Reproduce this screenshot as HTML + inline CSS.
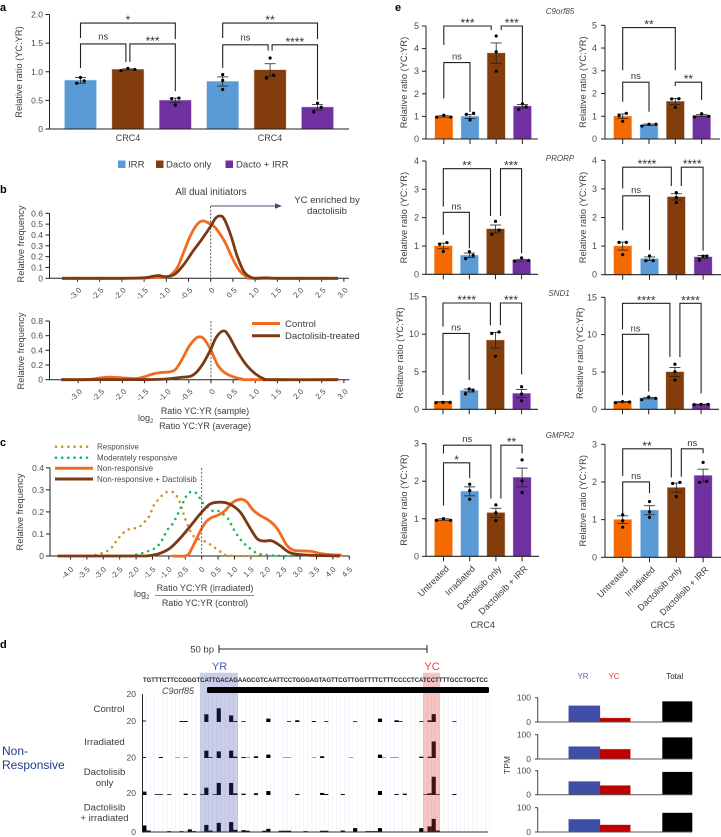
<!DOCTYPE html>
<html lang="en">
<head>
<meta charset="utf-8">
<title>YC:YR ratio figure</title>
<style>
html,body{margin:0;padding:0;background:#fff;}
svg{display:block;}
text{font-family:"Liberation Sans",sans-serif;fill:#3c3c3c;font-size:9px;}
.pl{font-size:11px;font-weight:bold;fill:#000;}
.tk{font-size:8.5px;fill:#4a4a4a;}
.lg{font-size:8px;fill:#4a4a4a;}
.gene{font-size:8px;font-style:italic;fill:#444;}
.md{font-size:9.6px;}
</style>
</head>
<body>
<svg id="fig" xmlns="http://www.w3.org/2000/svg" width="721" height="837" viewBox="0 0 721 837">
  <rect x="0" y="0" width="721" height="837" fill="#fff"/>
  <text class="pl" x="0" y="11">a</text>
  <text class="pl" x="0" y="193">b</text>
  <text class="pl" x="0" y="446">c</text>
  <text class="pl" x="0" y="648">d</text>
  <text class="pl" x="395" y="11">e</text>

  <g id="panelA"></g>
  <text x="0" y="0" text-anchor="middle" transform="translate(22 72) rotate(-90)" style="font-size:9.3px">Relative ratio (YC:YR)</text>
  <text x="128" y="141" text-anchor="middle">CRC4</text>
  <text x="270" y="141" text-anchor="middle">CRC4</text>
  <g>
    <rect x="118" y="160.5" width="7.5" height="7.5" fill="#5b9bd5"/>
    <text class="md" x="128" y="167.5">IRR</text>
    <rect x="156" y="160.5" width="7.5" height="7.5" fill="#833c0b"/>
    <text class="md" x="166" y="167.5">Dacto only</text>
    <rect x="225.5" y="160.5" width="7.5" height="7.5" fill="#7030a0"/>
    <text class="md" x="236" y="167.5">Dacto + IRR</text>
  </g>

  <g id="panelB"></g>
  <text x="211" y="195" text-anchor="middle" style="font-size:9.8px">All dual initiators</text>
  <text class="md" x="327" y="203" text-anchor="middle">YC enriched by</text>
  <text class="md" x="327" y="214" text-anchor="middle">dactolisib</text>
  <line x1="211" y1="206" x2="277" y2="206" stroke="#3d5070" stroke-width="1"/>
  <polygon points="282,206 275,203.2 275,208.8" fill="#3d5070"/>
  <text x="0" y="0" text-anchor="middle" transform="translate(24 244) rotate(-90)" style="font-size:9.3px">Relative frequency</text>
  <text x="0" y="0" text-anchor="middle" transform="translate(24 351) rotate(-90)" style="font-size:9.3px">Relative frequency</text>
  <line x1="252" y1="323.5" x2="280" y2="323.5" stroke="#f26b21" stroke-width="3"/>
  <text class="md" x="285" y="326.8">Control</text>
  <line x1="252" y1="335.7" x2="280" y2="335.7" stroke="#7b3a14" stroke-width="3"/>
  <text class="md" x="285" y="339">Dactolisib-treated</text>
  <g>
    <text x="138" y="421">log<tspan dy="2" style="font-size:6px">2</tspan></text>
    <line x1="160" y1="418.3" x2="250" y2="418.3" stroke="#444" stroke-width=".7"/>
    <text x="205" y="414" text-anchor="middle">Ratio YC:YR (sample)</text>
    <text x="205" y="429" text-anchor="middle">Ratio YC:YR (average)</text>
  </g>

  <g id="panelC"></g>
  <text x="0" y="0" text-anchor="middle" transform="translate(23 512) rotate(-90)" style="font-size:9.3px">Relative frequency</text>
  <g>
    <line x1="56" y1="446.7" x2="92" y2="446.7" stroke="#c8952f" stroke-width="2.6" stroke-linecap="round" stroke-dasharray="0 6.2"/>
    <text class="lg" x="97" y="449.5">Responsive</text>
    <line x1="56" y1="457.7" x2="92" y2="457.7" stroke="#1fb45f" stroke-width="2.6" stroke-linecap="round" stroke-dasharray="0 6.2"/>
    <text class="lg" x="97" y="460.5">Moderately responsive</text>
    <line x1="55" y1="468.3" x2="93" y2="468.3" stroke="#f26b21" stroke-width="3"/>
    <text class="lg" x="97" y="471">Non-responsive</text>
    <line x1="55" y1="479" x2="93" y2="479" stroke="#7b3a14" stroke-width="3"/>
    <text class="lg" x="97" y="481.8">Non-responsive + Dactolisib</text>
  </g>
  <g>
    <text x="134" y="597">log<tspan dy="2" style="font-size:6px">2</tspan></text>
    <line x1="155" y1="595.3" x2="254" y2="595.3" stroke="#444" stroke-width=".7"/>
    <text x="205" y="591" text-anchor="middle">Ratio YC:YR (irradiated)</text>
    <text x="205" y="606" text-anchor="middle">Ratio YC:YR (control)</text>
  </g>

  <g id="panelD"></g>
  <g>
    <text x="214" y="652.5" text-anchor="end" style="font-size:9.5px">50 bp</text>
    <line x1="219" y1="649" x2="427" y2="649" stroke="#222" stroke-width="1"/>
    <line x1="219" y1="645" x2="219" y2="653" stroke="#222" stroke-width="1"/>
    <line x1="427" y1="645" x2="427" y2="653" stroke="#222" stroke-width="1"/>
    <text x="219.5" y="670" text-anchor="middle" style="font-size:11px;fill:#4a5ab8">YR</text>
    <text x="432" y="670" text-anchor="middle" style="font-size:11px;fill:#e84040">YC</text>
    <text x="143" y="682" textLength="345" lengthAdjust="spacingAndGlyphs" style="font-size:6.2px;fill:#222;font-weight:bold">TGTTTCTTCCGGGTCATTGACAGAAGCGTCAATTCCTGGGAGTAGTTCGTTGGTTTTCTTTCCCCTCATCCTTTTGCCTGCTCC</text>
    <rect x="207" y="687" width="282" height="6" rx="1.5" fill="#000"/>
    <text class="gene" x="178" y="694" text-anchor="middle" style="font-size:9px">C9orf85</text>
    <text class="md" x="109" y="712" text-anchor="middle">Control</text>
    <text class="md" x="104.5" y="745" text-anchor="middle">Irradiated</text>
    <text class="md" x="104.5" y="775" text-anchor="middle">Dactolisib</text>
    <text class="md" x="104.5" y="786" text-anchor="middle">only</text>
    <text class="md" x="104.5" y="810.5" text-anchor="middle">Dactolisib</text>
    <text class="md" x="104.5" y="821" text-anchor="middle">+ irradiated</text>
    <text x="2" y="755" style="font-size:12px;fill:#1f3a8a">Non-</text>
    <text x="2" y="769" style="font-size:12px;fill:#1f3a8a">Responsive</text>
  </g>

  <g id="panelTpm"></g>
  <text x="583" y="679" text-anchor="middle" style="font-size:8px;fill:#5a62c0">YR</text>
  <text x="614" y="679" text-anchor="middle" style="font-size:8px;fill:#e04030">YC</text>
  <text x="674.7" y="679" text-anchor="middle" style="font-size:8px;fill:#222">Total</text>
  <text x="0" y="0" text-anchor="middle" transform="translate(510 765) rotate(-90)" style="font-size:8.5px">TPM</text>

  <g id="panelE"></g>
  <text class="gene" x="560" y="14" text-anchor="middle">C9orf85</text>
  <text class="gene" x="560" y="161" text-anchor="middle">PRORP</text>
  <text class="gene" x="559" y="296" text-anchor="middle">SND1</text>
  <text class="gene" x="560" y="438" text-anchor="middle">GMPR2</text>
  <text x="482.7" y="628" text-anchor="middle">CRC4</text>
  <text x="662.7" y="628" text-anchor="middle">CRC5</text>
</svg>

<script>
/* ---------- shared colours ---------- */
var barColors3 = ['#5b9bd5', '#833c0b', '#7030a0'];
var barColors4 = ['#f56a00', '#5b9bd5', '#833c0b', '#7030a0'];

/* ---------- panel a data ---------- */
var aValues = [0.85, 1.04, 0.50, 0.83, 1.03, 0.38];
var aErrors = [0.05, 0.01, 0.04, 0.08, 0.11, 0.05];
var aPoints = [[0.80,0.90,0.84],[1.02,1.06,1.04],[0.54,0.42,0.53],[0.95,0.85,0.69],[0.89,1.24,0.94],[0.45,0.38,0.30]];
var aTicks = [0, 0.5, 1.0, 1.5, 2.0];
var aTickLabels = ['0', '0.5', '1.0', '1.5', '2.0'];
var aBrackets = [[0,2,1.85,1.59,1.57,'*'],[0,1,1.485,1.065,1.17,'ns'],[1,2,1.485,1.17,0.66,'***'],
                 [3,5,1.85,1.59,1.57,'**'],[3,4,1.47,1.065,1.37,'ns'],[4,5,1.47,1.37,0.51,'****']];

/* ---------- panel b data ---------- */
var bTopTicks = [-3,-2.5,-2,-1.5,-1,-0.5,0,0.5,1,1.5,2,2.5,3];
var bTopTickLabels = ['-3.0','-2.5','-2.0','-1.5','-1.0','-0.5','0','0.5','1.0','1.5','2.0','2.5','3.0'];
var bTopYTicks = [0,0.1,0.2,0.3,0.4,0.5,0.6];
var bTopYLabels = ['0','0.1','0.2','0.3','0.4','0.5','0.6'];
var bTopControl = [[-3.35,0],[-2,0],[-1.5,0.002],[-1.2,0.01],[-1,0.012],[-0.9,0.03],[-0.75,0.1],[-0.6,0.25],[-0.45,0.4],[-0.3,0.5],[-0.18,0.53],[-0.05,0.51],[0.1,0.47],[0.3,0.35],[0.45,0.22],[0.6,0.1],[0.75,0.03],[0.9,0.005],[1,0],[2.87,0]];
var bTopDacto = [[-3.35,0],[-2,0],[-1.5,0.005],[-1.2,0.025],[-1,0.015],[-0.8,0.04],[-0.6,0.13],[-0.4,0.25],[-0.2,0.36],[0,0.48],[0.1,0.55],[0.2,0.575],[0.3,0.55],[0.45,0.4],[0.6,0.2],[0.75,0.06],[0.9,0.01],[1,0],[1.25,0.005],[1.5,0],[2.87,0]];
var bBotYTicks = [0,0.2,0.4,0.6,0.8];
var bBotYLabels = ['0','0.2','0.4','0.6','0.8'];
var bBotControl = [[-3.38,0],[-2.8,0.002],[-2.5,0.025],[-2.3,0.035],[-2,0.025],[-1.7,0.015],[-1.5,0.04],[-1.3,0.08],[-1.1,0.1],[-0.95,0.105],[-0.8,0.14],[-0.65,0.28],[-0.5,0.45],[-0.35,0.56],[-0.25,0.585],[-0.15,0.55],[0,0.4],[0.15,0.2],[0.3,0.1],[0.5,0.04],[0.7,0.01],[0.9,0],[2.87,0]];
var bBotDacto = [[-3.38,0],[-1.5,0.002],[-1,0.01],[-0.7,0.03],[-0.45,0.05],[-0.3,0.12],[-0.15,0.25],[0,0.42],[0.12,0.58],[0.28,0.665],[0.4,0.6],[0.6,0.38],[0.8,0.2],[1,0.08],[1.2,0.01],[1.35,0],[2.87,0]];

/* ---------- panel c data ---------- */
var cTicks = [-4,-3.5,-3,-2.5,-2,-1.5,-1,-0.5,0,0.5,1,1.5,2,2.5,3,3.5,4,4.5];
var cTickLabels = ['-4.0','-3.5','-3.0','-2.5','-2.0','-1.5','-1.0','-0.5','0','0.5','1.0','1.5','2.0','2.5','3.0','3.5','4.0','4.5'];
var cYTicks = [0,0.1,0.2,0.3,0.4];
var cYLabels = ['0','0.1','0.2','0.3','0.4'];
var cResponsive = [[-4.37,0],[-3.6,0],[-3.3,0.003],[-3,0.015],[-2.8,0.03],[-2.67,0.053],[-2.56,0.077],[-2.43,0.098],[-2.28,0.118],[-2.08,0.124],[-1.9,0.133],[-1.75,0.154],[-1.6,0.18],[-1.46,0.23],[-1.34,0.253],[-1.2,0.276],[-1.05,0.291],[-0.85,0.288],[-0.73,0.264],[-0.65,0.238],[-0.59,0.208],[-0.53,0.181],[-0.46,0.152],[-0.3,0.1],[-0.15,0.08],[0.02,0.072],[0.21,0.057],[0.36,0.042],[0.54,0.023],[0.71,0.005],[1.07,0],[1.9,0]];
var cModerate = [[-2.18,0],[-1.98,0.007],[-1.78,0.015],[-1.6,0.024],[-1.42,0.036],[-1.29,0.054],[-1.17,0.083],[-1.05,0.118],[-0.95,0.133],[-0.84,0.158],[-0.75,0.184],[-0.66,0.211],[-0.58,0.238],[-0.5,0.264],[-0.38,0.288],[-0.21,0.29],[-0.07,0.266],[0.03,0.241],[0.33,0.205],[0.52,0.204],[0.81,0.168],[0.91,0.14],[1,0.115],[1.11,0.09],[1.24,0.065],[1.37,0.047],[1.51,0.03],[1.7,0.012],[1.88,0.006],[2.29,0.001],[2.9,0]];
var cNonResponsive = [[-0.9,0],[-0.46,0.002],[-0.3,0.035],[-0.15,0.08],[0,0.125],[0.15,0.158],[0.3,0.174],[0.51,0.186],[0.71,0.205],[0.86,0.231],[1.02,0.25],[1.22,0.257],[1.37,0.246],[1.57,0.208],[1.78,0.184],[2.03,0.163],[2.24,0.136],[2.39,0.103],[2.59,0.05],[2.79,0.027],[3.1,0.023],[3.35,0.021],[3.6,0.012],[3.91,0.006],[4.27,0.004]];
var cNonDacto = [[-4.4,0],[-2,0],[-1.58,0.002],[-1.27,0.012],[-0.97,0.035],[-0.66,0.08],[-0.36,0.133],[-0.05,0.19],[0.25,0.235],[0.56,0.244],[0.86,0.235],[1.17,0.2],[1.42,0.14],[1.68,0.08],[1.88,0.068],[2.13,0.069],[2.39,0.047],[2.69,0.015],[3.1,0.005],[3.6,0.002],[4.22,0]];

/* ---------- panel d data: [base bin, coverage] ---------- */
var dTrackControl = [[9,.5],[10,.5],[15,4.1],[18,7.3],[21,3.5],[22,.5],[24,.4],[30,1.8],[35,.4],[37,.9],[41,.5],[44,.4],[51,.4],[57,1.8],[61,.9],[62,.4],[67,.4],[69,.9],[70,4.2],[75,.4]];
var dTrackIrradiated = [[4,.5],[8,.2],[10,.2],[15,3.9],[16,.4],[18,3.5],[21,3.9],[22,.7],[24,.5],[25,.2],[27,.9],[30,1.8],[34,.2],[35,.2],[41,.2],[43,.9],[50,.2],[57,1.8],[58,.2],[60,.2],[61,.2],[67,.7],[69,.7],[70,8.8]];
var dTrackDacto = [[0,1.8],[3,.4],[4,.4],[6,.4],[10,.7],[12,.4],[14,.4],[15,3.9],[17,.4],[18,6.4],[21,6.4],[22,.9],[24,.7],[27,.9],[30,2.1],[37,.5],[43,1.1],[44,.5],[48,.5],[57,2.1],[61,.5],[63,.7],[68,.4],[69,.9],[70,9.7],[71,.4],[75,.5]];
var dTrackCombo = [[0,3.2],[1,.5],[6,.2],[9,.2],[11,1.1],[12,.2],[15,3.5],[16,.5],[18,4.6],[21,5],[22,.9],[24,.7],[25,.4],[29,.4],[30,1.4],[33,.4],[34,.4],[35,.4],[39,.2],[43,.4],[44,.4],[48,.5],[51,1.8],[54,.2],[55,.2],[56,.2],[57,1.8],[67,1.8],[69,2.7],[70,6.7],[71,.5]];
var dTickLabels = ['20','20','20','20','0'];

/* ---------- TPM data ---------- */
var tpmYR = [67, 51, 55, 52];
var tpmYC = [16, 40, 38, 29];
var tpmTotal = [85, 89, 95, 79];

/* ---------- panel e data ---------- */
var eCategories = ['Untreated', 'Irradiated', 'Dactolisib only', 'Dactolisib + IRR'];

var c9Crc4Values = [1.0, 1.0, 3.8, 1.45];
var c9Crc4Errors = [0.03, 0.09, 0.45, 0.08];
var c9Crc4Points = [[0.97,1.05,0.97],[1.14,1.09,0.84],[4.56,3.86,3.0],[1.31,1.56,1.43]];
var c9Crc4Brackets = [[0,2,5.0,4.16,4.82,'***'],[2,3,5.0,4.82,1.5,'***'],[0,1,3.38,1.8,1.2,'ns']];
var c9Crc5Values = [1.0, 0.63, 1.65, 1.03];
var c9Crc5Errors = [0.1, 0.03, 0.13, 0.04];
var c9Crc5Points = [[1.13,1.03,0.78],[0.57,0.65,0.65],[1.77,1.76,1.39],[0.97,1.11,1.0]];
var c9Crc5Brackets = [[0,2,4.9,3.03,3.03,'**'],[0,1,2.5,1.64,1.2,'ns'],[2,3,2.5,2.33,1.72,'**']];

var prCrc4Values = [1.0, 0.67, 1.6, 0.5];
var prCrc4Errors = [0.1, 0.08, 0.14, 0.03];
var prCrc4Points = [[1.12,1.06,0.81],[0.55,0.8,0.67],[1.87,1.56,1.41],[0.47,0.58,0.49]];
var prCrc4Brackets = [[0,2,3.73,2.39,2.06,'**'],[2,3,3.73,2.06,0.74,'***'],[0,1,2.19,1.39,0.92,'ns']];
var prCrc5Values = [1.0, 0.56, 2.72, 0.62];
var prCrc5Errors = [0.14, 0.06, 0.11, 0.05];
var prCrc5Points = [[1.13,1.13,0.7],[0.49,0.66,0.49],[2.87,2.7,2.52],[0.65,0.65,0.51]];
var prCrc5Brackets = [[0,2,3.76,3.02,3.1,'****'],[2,3,3.76,3.1,0.84,'****'],[0,1,2.76,1.56,0.86,'ns']];

var snCrc4Values = [1.0, 2.5, 9.2, 2.1];
var snCrc4Errors = [0.03, 0.2, 1.05, 0.55];
var snCrc4Points = [[0.89,0.93,0.93],[2.71,2.04,2.53],[10.3,10.1,7.06],[3.0,2.04,1.15]];
var snCrc4Brackets = [[0,2,14.16,11.0,11.2,'****'],[2,3,14.16,11.2,4.66,'***'],[0,1,10.1,1.9,3.9,'ns']];
var snCrc5Values = [1.0, 1.5, 5.0, 0.67];
var snCrc5Errors = [0.05, 0.1, 0.6, 0.02];
var snCrc5Points = [[0.89,1.03,0.98],[1.29,1.65,1.47],[6.03,5.04,3.93],[0.63,0.67,0.67]];
var snCrc5Brackets = [[0,2,14.2,10.7,7.0,'****'],[2,3,14.2,7.0,2.14,'****'],[0,1,10.04,1.9,2.37,'ns']];

var gmCrc4Values = [0.98, 1.73, 1.16, 2.1];
var gmCrc4Errors = [0.02, 0.12, 0.12, 0.25];
var gmCrc4Points = [[0.96,1.0,0.96],[1.92,1.75,1.52],[1.37,1.16,0.95],[2.57,2.01,1.7]];
var gmCrc4Brackets = [[0,2,2.96,2.74,1.54,'ns'],[2,3,2.96,1.54,2.74,'**'],[0,1,2.49,1.35,2.08,'*']];
var gmCrc5Values = [1.0, 1.25, 1.85, 2.17];
var gmCrc5Errors = [0.1, 0.12, 0.12, 0.17];
var gmCrc5Points = [[1.13,0.97,0.8],[1.48,1.21,1.06],[1.99,1.96,1.61],[1.99,2.02,2.52]];
var gmCrc5Brackets = [[0,2,2.88,2.16,2.12,'**'],[2,3,2.88,2.14,2.76,'ns'],[0,1,2.0,1.17,1.7,'ns']];

/* ---------- helpers ---------- */
var NS = 'http://www.w3.org/2000/svg';
function linear(d0, d1, r0, r1) {
  return function (v) { return r0 + (v - d0) * (r1 - r0) / (d1 - d0); };
}
function mk(tag, attrs, parent, name) {
  var el = document.createElementNS(NS, tag);
  for (var k in attrs) el.setAttribute(k, attrs[k]);
  
  
  parent.appendChild(el);
  return el;
}
function line(p, x1, y1, x2, y2, color, w, name) {
  return mk('line', {x1: x1, y1: y1, x2: x2, y2: y2, stroke: color, 'stroke-width': w}, p, name);
}
function label(p, x, y, str, anchor, cls, name) {
  var t = mk('text', {x: x, y: y, 'text-anchor': anchor, 'class': cls}, p, name);
  t.textContent = str;
  return t;
}
function smooth(points, sx, sy) {
  var pts = points.map(function (q) { return [sx(q[0]), sy(q[1])]; });
  var d = 'M' + pts[0][0] + ' ' + pts[0][1];
  for (var i = 0; i < pts.length - 1; i++) {
    var p0 = pts[Math.max(0, i - 1)], p1 = pts[i], p2 = pts[i + 1], p3 = pts[Math.min(pts.length - 1, i + 2)];
    var k = 1 / 6;
    d += 'C' + (p1[0] + (p2[0] - p0[0]) * k) + ' ' + (p1[1] + (p2[1] - p0[1]) * k) + ' ' +
         (p2[0] - (p3[0] - p1[0]) * k) + ' ' + (p2[1] - (p3[1] - p1[1]) * k) + ' ' + p2[0] + ' ' + p2[1];
  }
  return d;
}
function curve(p, points, sx, sy, color, width, dotted, name) {
  var a = {d: smooth(points, sx, sy), fill: 'none', stroke: color, 'stroke-width': width, 'stroke-linejoin': 'round'};
  if (dotted) { a['stroke-dasharray'] = '0 6.2'; a['stroke-linecap'] = 'round'; }
  return mk('path', a, p, name);
}
function yAxis(p, x, sy, ticks, labels, labelX, top, bottom, size) {
  line(p, x, sy(top), x, sy(bottom), '#222', 1, 'y-axis-line');
  ticks.forEach(function (t, i) {
    line(p, x - 4, sy(t), x, sy(t), '#222', 1, 'y-axis-tick');
    var lab = label(p, labelX, sy(t) + 3, labels[i], 'end', 'tk', 'y-tick-label');
    if (size) lab.style.fontSize = size + 'px';
  });
}
function rotatedTicks(p, sx, axisY, ticks, labels, offX, offY) {
  ticks.forEach(function (t, i) {
    line(p, sx(t), axisY, sx(t), axisY + 3.5, '#222', 1, 'x-axis-tick');
    var ex = sx(t) + offX, ey = axisY + offY;
    var lab = label(p, ex, ey + 2.7, labels[i], 'end', 'tk', 'x-tick-label');
    lab.setAttribute('transform', 'rotate(-45 ' + ex + ' ' + ey + ')');
    lab.style.fontSize = '7.8px';
  });
}
function placeDots(vals, sy) {
  var idx = [0, 1, 2].sort(function (a, b) { return vals[a] - vals[b]; });
  var py = idx.map(function (i) { return sy(vals[i]); });
  var g1 = py[0] - py[1], g2 = py[1] - py[2];
  var th = 4.8, out = [0, 0, 0];
  if (g1 < th && g2 < th) {
    var dx = (py[0] - py[2]) < 3.5 ? 7 : 3.7;
    out[idx[0]] = -dx; out[idx[1]] = dx; out[idx[2]] = 0;
  } else if (g1 < th) {
    out[idx[0]] = -3.6; out[idx[1]] = 3.6;
  } else if (g2 < th) {
    out[idx[1]] = -3.6; out[idx[2]] = 3.6;
  }
  return out;
}
function brackets(p, list, sy, cx, gap, nsDy) {
  list.forEach(function (b, n) {
    var dl = 0, dr = 0;
    list.forEach(function (o, m) {
      if (m === n) return;
      if (o[0] === b[1] && b[4] < o[2] && o[3] < b[2]) dr = -gap;
      if (o[1] === b[0] && b[3] < o[2] && o[4] < b[2]) dl = gap;
    });
    var xl = cx(b[0]) + dl, xr = cx(b[1]) + dr;
    var d = 'M' + xl + ' ' + sy(b[3]) + 'V' + sy(b[2]) + 'H' + xr + 'V' + sy(b[4]);
    mk('path', {d: d, fill: 'none', stroke: '#222', 'stroke-width': 1.1}, p, 'significance-bracket');
    var isNs = b[5] === 'ns';
    var t = label(p, (xl + xr) / 2, sy(b[2]) + (isNs ? nsDy : 1), b[5], 'middle', 'tk', 'significance-label');
    t.style.fontSize = isNs ? '9.4px' : '12px';
    t.style.fill = '#333';
  });
}
function barPlot(p, o) {
  var sy = linear(0, o.yMax, o.yZero, o.yTop);
  var cx = function (i) { return o.c0 + o.step * i; };
  yAxis(p, o.axisX, sy, o.ticks, o.tickLabels, o.labelX, o.yMax, 0, o.tickSize);
  o.values.forEach(function (v, i) {
    var h = o.yZero - sy(v);
    mk('rect', {x: cx(i) - o.barW / 2, y: sy(v), width: o.barW, height: h, fill: o.colors[i],
      stroke: o.colors[i], 'stroke-opacity': 0.35, 'stroke-width': 1}, p, 'bar');
  });
  line(p, o.axisX - 0.5, o.yZero, o.xEnd, o.yZero, '#222', 1.1, 'x-axis-line');
  o.values.forEach(function (v, i) {
    var c = cx(i), e = o.errors[i];
    line(p, c, sy(v - e), c, sy(v + e), '#222', 0.8, 'error-bar');
    line(p, c - 5.5, sy(v + e), c + 5.5, sy(v + e), '#222', 0.8, 'error-cap-upper');
    line(p, c - 5.5, sy(v - e), c + 5.5, sy(v - e), '#222', 0.8, 'error-cap-lower');
    var off = placeDots(o.points[i], sy);
    o.points[i].forEach(function (pt, j) {
      mk('circle', {cx: c + off[j], cy: sy(pt), r: 1.6, fill: '#000'}, p, 'data-point');
    });
    if (o.xTicks) line(p, c, o.yZero, c, o.yZero + 5, '#222', 1, 'x-axis-tick');
  });
  brackets(p, o.brackets, sy, cx, o.gap, o.nsDy);
  if (o.categories) {
    o.categories.forEach(function (name, i) {
      var x = cx(i) + 6, y = o.yZero + 13;
      var t = label(p, x, y, name, 'end', '', 'x-category-label');
      t.setAttribute('transform', 'rotate(-45 ' + x + ' ' + y + ')');
      t.style.fontSize = '9px';
    });
  }
  return sy;
}

/* ---------- panel a ---------- */
(function () {
  var p = document.getElementById('panelA');
  var colors = barColors3.concat(barColors3);
  barPlot(p, {values: aValues, errors: aErrors, points: aPoints, brackets: aBrackets, colors: colors,
    c0: 80.5, step: 47.4, barW: 31.5, axisX: 49.5, xEnd: 349, yTop: 14.5, yZero: 129, yMax: 2,
    ticks: aTicks, tickLabels: aTickLabels, labelX: 43, gap: 2, nsDy: -4.5});
})();

/* ---------- panel b ---------- */
(function () {
  var p = document.getElementById('panelB');
  var sxT = linear(0, 1, 210.7, 255.1);
  var syT = linear(0, 0.6, 278.3, 213.3);
  yAxis(p, 49.5, syT, bTopYTicks, bTopYLabels, 43, 0.6, 0);
  line(p, 49, 278.3, 349, 278.3, '#222', 1, 'b-top-x-axis');
  rotatedTicks(p, sxT, 278.3, bTopTicks, bTopTickLabels, 2.5, 10.5);
  curve(p, bTopControl, sxT, syT, '#f26b21', 2.8, false, 'b-top-control-curve');
  curve(p, bTopDacto, sxT, syT, '#7b3a14', 2.8, false, 'b-top-dactolisib-curve');
  mk('line', {x1: 210.7, y1: 206, x2: 210.7, y2: 278, stroke: '#333', 'stroke-width': 0.8, 'stroke-dasharray': '2 1.6'}, p, 'b-top-zero-line');

  var sxB = linear(0, 1, 211, 255.3);
  var syB = linear(0, 0.8, 379.7, 321);
  yAxis(p, 49.5, syB, bBotYTicks, bBotYLabels, 43, 0.8, 0);
  line(p, 49, 379.7, 349.5, 379.7, '#222', 1, 'b-bottom-x-axis');
  rotatedTicks(p, sxB, 379.7, bTopTicks, bTopTickLabels, 2.5, 10.5);
  curve(p, bBotControl, sxB, syB, '#f26b21', 2.8, false, 'b-bottom-control-curve');
  curve(p, bBotDacto, sxB, syB, '#7b3a14', 2.8, false, 'b-bottom-dactolisib-curve');
  mk('line', {x1: 211, y1: 321, x2: 211, y2: 379.5, stroke: '#333', 'stroke-width': 0.8, 'stroke-dasharray': '2 1.6'}, p, 'b-bottom-zero-line');
})();

/* ---------- panel c ---------- */
(function () {
  var p = document.getElementById('panelC');
  var sx = linear(0, 1, 201.7, 234.5);
  var sy = linear(0, 0.4, 556, 467.8);
  yAxis(p, 50, sy, cYTicks, cYLabels, 44, 0.4, 0);
  line(p, 49.5, 556, 349.5, 556, '#222', 1, 'c-x-axis');
  rotatedTicks(p, sx, 556, cTicks, cTickLabels, 1.5, 12);
  curve(p, cResponsive, sx, sy, '#c8952f', 2.6, true, 'c-responsive-curve');
  curve(p, cModerate, sx, sy, '#1fb45f', 2.6, true, 'c-moderately-responsive-curve');
  curve(p, cNonResponsive, sx, sy, '#f26b21', 2.8, false, 'c-non-responsive-curve');
  curve(p, cNonDacto, sx, sy, '#7b3a14', 2.8, false, 'c-non-responsive-dactolisib-curve');
  mk('line', {x1: 201.7, y1: 468, x2: 201.7, y2: 556, stroke: '#333', 'stroke-width': 0.8, 'stroke-dasharray': '2 1.8'}, p, 'c-zero-line');
})();

/* ---------- panel d ---------- */
(function () {
  var p = document.getElementById('panelD');
  var binX = linear(0, 84, 142.3, 489.5);
  var binW = binX(1) - binX(0);
  var binCount = 84;
  for (var i = 0; i <= binCount; i++) {
    line(p, binX(i), 694, binX(i), 831, '#eceef7', 0.6, 'track-grid-line');
  }
  var baselines = [722, 758, 795, 831.5];
  var unit = 1.883;
  [dTrackControl, dTrackIrradiated, dTrackDacto, dTrackCombo].forEach(function (track, t) {
    track.forEach(function (b) {
      var h = b[1] * unit;
      mk('rect', {x: binX(b[0]), y: baselines[t] - h, width: binW, height: h, fill: '#000'}, p, 'coverage-bar');
    });
  });
  mk('rect', {x: 200, y: 672.7, width: 38, height: 159, fill: 'rgb(60,70,170)', 'fill-opacity': 0.27}, p, 'yr-highlight');
  mk('rect', {x: 423, y: 672.7, width: 17, height: 159, fill: 'rgb(220,60,60)', 'fill-opacity': 0.3}, p, 'yc-highlight');
  line(p, 142.5, 694, 142.5, 832, '#222', 1, 'track-y-axis');
  line(p, 142, 832, 488, 832, '#333', 1, 'track-baseline');
  var tickPos = [694, 721, 757.5, 793, 832];
  dTickLabels.forEach(function (s, i) {
    label(p, 136, tickPos[i] + 3, s, 'end', 'tk', 'track-tick-label');
    if (i > 0 && i < 4) line(p, 142.5, tickPos[i], 146, tickPos[i], '#222', 1, 'track-tick');
  });
})();

/* ---------- TPM panel ---------- */
(function () {
  var p = document.getElementById('panelTpm');
  var tops = [697.7, 734.7, 770.7, 807.7];
  var zeros = [722, 759, 794.7, 832];
  var tpmTicks = [0, 100];
  tops.forEach(function (top, i) {
    var sy = linear(0, 100, zeros[i], top);
    mk('rect', {x: 568.7, y: sy(tpmYR[i]), width: 31.3, height: zeros[i] - sy(tpmYR[i]), fill: '#3f4fa8', stroke: '#3f4fa8', 'stroke-opacity': .35, 'stroke-width': .8}, p, 'tpm-bar-yr');
    mk('rect', {x: 600, y: sy(tpmYC[i]), width: 30.3, height: zeros[i] - sy(tpmYC[i]), fill: '#c00000', stroke: '#c00000', 'stroke-opacity': .35, 'stroke-width': .8}, p, 'tpm-bar-yc');
    mk('rect', {x: 662.3, y: sy(tpmTotal[i]), width: 30, height: zeros[i] - sy(tpmTotal[i]), fill: '#000'}, p, 'tpm-bar-total');
    line(p, 537.7, top, 537.7, zeros[i], '#444', 1, 'tpm-y-axis');
    line(p, 537.7, zeros[i], 692.3, zeros[i], '#555', 1, 'tpm-baseline');
    tpmTicks.forEach(function (t) {
      line(p, 535, sy(t), 538, sy(t), '#444', 1, 'tpm-tick');
      label(p, 531, sy(t) + 3, String(t), 'end', 'tk', 'tpm-tick-label');
    });
  });
})();

/* ---------- panel e ---------- */
(function () {
  var root = document.getElementById('panelE');
  function sub(name, o) {
    var g = mk('g', {}, root, name);
    o.colors = barColors4;
    o.barW = 17.6;
    o.xTicks = true;
    o.gap = 5;
    o.nsDy = -3;
    o.tickSize = 9;
    barPlot(g, o);
    var tx = o.titleX, ty = (o.yTop + o.yZero) / 2 + o.titleDy;
    var t = mk('text', {x: 0, y: 0, 'text-anchor': 'middle', transform: 'translate(' + tx + ' ' + ty + ') rotate(-90)'}, g, 'y-axis-title');
    t.textContent = 'Relative ratio (YC:YR)';
    t.style.fontSize = '9.3px';
  }
  sub('c9orf85-crc4-chart', {values: c9Crc4Values, errors: c9Crc4Errors, points: c9Crc4Points, brackets: c9Crc4Brackets,
    c0: 443.8, step: 26.2, axisX: 426, xEnd: 538, yTop: 26, yZero: 139, yMax: 5, ticks: [0,1,2,3,4,5], tickLabels: ['0','1','2','3','4','5'], labelX: 419, titleX: 407, titleDy: 0});
  sub('c9orf85-crc5-chart', {values: c9Crc5Values, errors: c9Crc5Errors, points: c9Crc5Points, brackets: c9Crc5Brackets,
    c0: 622.7, step: 26.3, axisX: 605, xEnd: 720, yTop: 25.3, yZero: 139, yMax: 5, ticks: [0,1,2,3,4,5], tickLabels: ['0','1','2','3','4','5'], labelX: 597, titleX: 586, titleDy: 0});
  sub('prorp-crc4-chart', {values: prCrc4Values, errors: prCrc4Errors, points: prCrc4Points, brackets: prCrc4Brackets,
    c0: 443.3, step: 26.1, axisX: 426, xEnd: 538, yTop: 161, yZero: 274.3, yMax: 4, ticks: [0,1,2,3,4], tickLabels: ['0','1','2','3','4'], labelX: 419, titleX: 407, titleDy: 0});
  sub('prorp-crc5-chart', {values: prCrc5Values, errors: prCrc5Errors, points: prCrc5Points, brackets: prCrc5Brackets,
    c0: 622.7, step: 26.8, axisX: 605, xEnd: 721, yTop: 160.3, yZero: 274.7, yMax: 4, ticks: [0,1,2,3,4], tickLabels: ['0','1','2','3','4'], labelX: 597, titleX: 586, titleDy: 0});
  sub('snd1-crc4-chart', {values: snCrc4Values, errors: snCrc4Errors, points: snCrc4Points, brackets: snCrc4Brackets,
    c0: 443, step: 26.2, axisX: 426, xEnd: 538, yTop: 296.7, yZero: 409.3, yMax: 15, ticks: [0,5,10,15], tickLabels: ['0','5','10','15'], labelX: 419, titleX: 403, titleDy: 0});
  sub('snd1-crc5-chart', {values: snCrc5Values, errors: snCrc5Errors, points: snCrc5Points, brackets: snCrc5Brackets,
    c0: 622.5, step: 26.2, axisX: 605, xEnd: 719, yTop: 297.3, yZero: 409.3, yMax: 15, ticks: [0,5,10,15], tickLabels: ['0','5','10','15'], labelX: 597, titleX: 583, titleDy: 0});
  sub('gmpr2-crc4-chart', {values: gmCrc4Values, errors: gmCrc4Errors, points: gmCrc4Points, brackets: gmCrc4Brackets, categories: eCategories,
    c0: 443.5, step: 26.2, axisX: 426, xEnd: 539, yTop: 443.7, yZero: 556.3, yMax: 3, ticks: [0,1,2,3], tickLabels: ['0','1','2','3'], labelX: 419, titleX: 407, titleDy: 0});
  sub('gmpr2-crc5-chart', {values: gmCrc5Values, errors: gmCrc5Errors, points: gmCrc5Points, brackets: gmCrc5Brackets, categories: eCategories,
    c0: 622.7, step: 26.8, axisX: 605, xEnd: 721, yTop: 444.3, yZero: 557.3, yMax: 3, ticks: [0,1,2,3], tickLabels: ['0','1','2','3'], labelX: 597, titleX: 586, titleDy: 0});
})();
</script>
</body>
</html>
